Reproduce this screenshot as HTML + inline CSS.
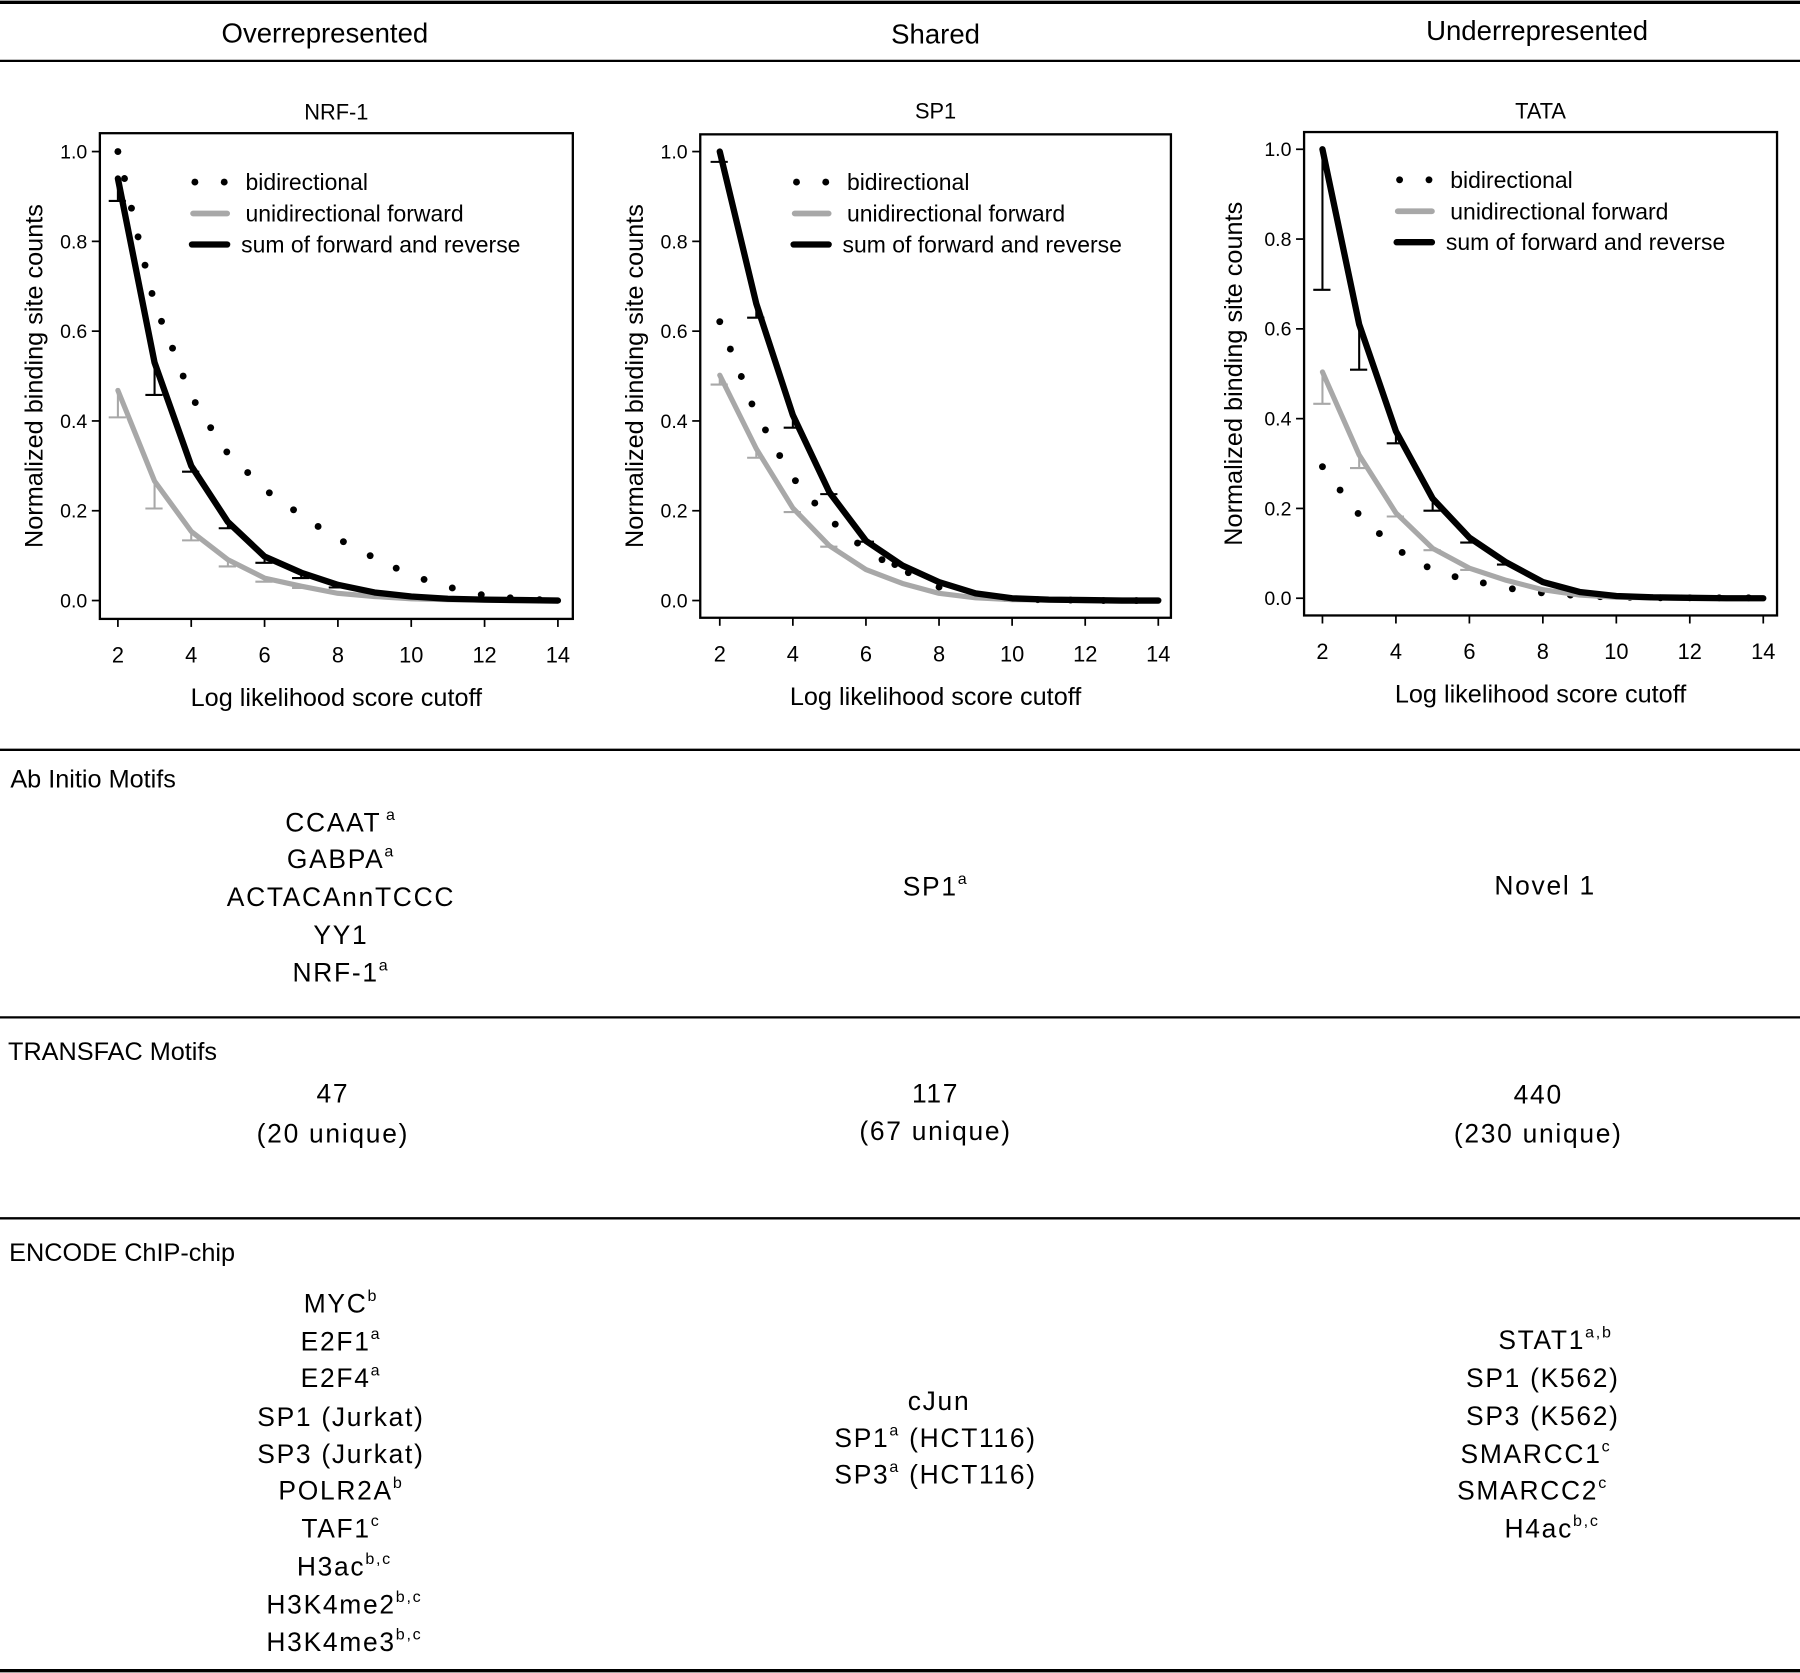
<!DOCTYPE html>
<html><head><meta charset="utf-8">
<style>
html,body{margin:0;padding:0;background:#fff;}
svg{display:block;}
text{font-family:"Liberation Sans",sans-serif;fill:#000;}
.hdr{font-size:24px;}
.row{font-size:22px;}
.it{font-size:23px;letter-spacing:1.5px;}
.sup{font-size:14px;}
</style></head>
<body>
<svg id="fig" width="1800" height="1673" viewBox="0 0 1568 1457" preserveAspectRatio="none" xmlns="http://www.w3.org/2000/svg">
<g stroke="#000">
<line x1="0" x2="1568" y1="2" y2="2" stroke-width="3"/>
<line x1="0" x2="1568" y1="53" y2="53" stroke-width="2"/>
<line x1="0" x2="1568" y1="653" y2="653" stroke-width="2"/>
<line x1="0" x2="1568" y1="886" y2="886" stroke-width="2"/>
<line x1="0" x2="1568" y1="1061" y2="1061" stroke-width="2"/>
<line x1="0" x2="1568" y1="1455" y2="1455" stroke-width="3"/>
</g>
<text class="hdr" x="283" y="37" text-anchor="middle">Overrepresented</text>
<text class="hdr" x="815" y="38" text-anchor="middle">Shared</text>
<text class="hdr" x="1339" y="35" text-anchor="middle">Underrepresented</text>

<text class="row" x="9" y="686">Ab Initio Motifs</text>
<g text-anchor="middle">
<text class="it" x="297" y="724">CCAAT<tspan class="sup" dx="4" dy="-10">a</tspan></text>
<text class="it" x="297" y="756">GABPA<tspan class="sup" dy="-10">a</tspan></text>
<text class="it" x="297" y="789">ACTACAnnTCCC</text>
<text class="it" x="297" y="822">YY1</text>
<text class="it" x="297" y="855">NRF-1<tspan class="sup" dy="-10">a</tspan></text>
</g>
<text class="it" x="815" y="780" text-anchor="middle">SP1<tspan class="sup" dy="-10">a</tspan></text>
<text class="it" x="1346" y="779" text-anchor="middle">Novel 1</text>

<text class="row" x="7" y="923">TRANSFAC Motifs</text>
<g text-anchor="middle">
<text class="it" x="290" y="960">47</text><text class="it" x="290" y="995">(20 unique)</text>
<text class="it" x="815" y="960">117</text><text class="it" x="815" y="993">(67 unique)</text>
<text class="it" x="1340" y="961">440</text><text class="it" x="1340" y="995">(230 unique)</text>
</g>

<text class="row" x="8" y="1098">ENCODE ChIP-chip</text>
<g text-anchor="middle">
<text class="it" x="297" y="1143">MYC<tspan class="sup" dy="-10">b</tspan></text>
<text class="it" x="297" y="1176">E2F1<tspan class="sup" dy="-10">a</tspan></text>
<text class="it" x="297" y="1208">E2F4<tspan class="sup" dy="-10">a</tspan></text>
<text class="it" x="297" y="1242">SP1 (Jurkat)</text>
<text class="it" x="297" y="1274">SP3 (Jurkat)</text>
<text class="it" x="297" y="1306">POLR2A<tspan class="sup" dy="-10">b</tspan></text>
<text class="it" x="297" y="1339">TAF1<tspan class="sup" dy="-10">c</tspan></text>
<text class="it" x="300" y="1372">H3ac<tspan class="sup" dy="-10">b,c</tspan></text>
<text class="it" x="300" y="1405">H3K4me2<tspan class="sup" dy="-10">b,c</tspan></text>
<text class="it" x="300" y="1438">H3K4me3<tspan class="sup" dy="-10">b,c</tspan></text>
</g>
<g text-anchor="middle">
<text class="it" x="818" y="1228">cJun</text>
<text class="it" x="815" y="1260">SP1<tspan class="sup" dy="-10">a</tspan><tspan dy="10"> (HCT116)</tspan></text>
<text class="it" x="815" y="1292">SP3<tspan class="sup" dy="-10">a</tspan><tspan dy="10"> (HCT116)</tspan></text>
</g>
<g text-anchor="middle">
<text class="it" x="1355" y="1175">STAT1<tspan class="sup" dy="-10">a,b</tspan></text>
<text class="it" x="1344" y="1208">SP1 (K562)</text>
<text class="it" x="1344" y="1241">SP3 (K562)</text>
<text class="it" x="1338" y="1274">SMARCC1<tspan class="sup" dy="-10">c</tspan></text>
<text class="it" x="1335" y="1306">SMARCC2<tspan class="sup" dy="-10">c</tspan></text>
<text class="it" x="1352" y="1339">H4ac<tspan class="sup" dy="-10">b,c</tspan></text>
</g>
<g id="plots"></g>
</svg>
<script>
const xs = [2,3,4,5,6,7,8,9,10,11,12,13,14];
const xTicks = [2,4,6,8,10,12,14];
const yTicks = [0,0.2,0.4,0.6,0.8,1.0];
const yTickLabels = ["0.0","0.2","0.4","0.6","0.8","1.0"];
const titles = ["NRF-1","SP1","TATA"];
const legendLabels = ["bidirectional","unidirectional forward","sum of forward and reverse"];
// NRF-1
const nrfSum = [0.94,0.53,0.30,0.175,0.098,0.062,0.035,0.018,0.009,0.004,0.002,0.001,0];
const nrfSumLow = [0.89,0.458,0.287,0.161,0.084,0.05,0.029];
const nrfFwd = [0.468,0.266,0.154,0.091,0.05,0.032,0.016,0.009,0.004,0.002,0.001,0,0];
const nrfFwdLow = [0.408,0.205,0.134,0.076,0.042,0.028];
const nrfBiX = [2,2.18,2.37,2.55,2.74,2.93,3.19,3.49,3.78,4.11,4.53,4.97,5.54,6.13,6.79,7.46,8.15,8.88,9.59,10.35,11.12,11.91,12.7,13.5];
const nrfBiY = [1.0,0.94,0.874,0.81,0.747,0.684,0.622,0.562,0.5,0.441,0.385,0.331,0.285,0.24,0.202,0.165,0.131,0.1,0.072,0.047,0.028,0.013,0.006,0.002];
// SP1
const spSum = [1.0,0.661,0.413,0.241,0.133,0.078,0.041,0.016,0.005,0.002,0.001,0,0];
const spSumLow = [0.977,0.63,0.385,0.237,0.131];
const spFwd = [0.502,0.338,0.206,0.122,0.069,0.038,0.016,0.006,0.002,0.001,0,0,0];
const spFwdLow = [0.481,0.318,0.197,0.12];
const spBiX = [2,2.29,2.59,2.88,3.25,3.64,4.07,4.6,5.16,5.77,6.44,6.79,7.16,8,8.9,9.8,10.7,11.6,12.5,13.4];
const spBiY = [0.621,0.56,0.499,0.438,0.38,0.323,0.267,0.217,0.17,0.128,0.091,0.08,0.062,0.03,0.013,0.005,0.002,0.001,0,0];
// TATA
const tataSum = [1.0,0.61,0.372,0.222,0.135,0.08,0.036,0.014,0.005,0.002,0.001,0,0];
const tataSumLow = [0.687,0.509,0.345,0.195,0.124,0.075];
const tataFwd = [0.504,0.319,0.19,0.111,0.067,0.04,0.019,0.007,0.002,0.001,0,0,0];
const tataFwdLow = [0.433,0.29,0.182,0.107,0.063];
const tataBiX = [2,2.48,2.97,3.55,4.17,4.85,5.61,6.38,7.17,7.96,8.75,9.56,10.37,11.2,12,12.8,13.6];
const tataBiY = [0.293,0.241,0.189,0.144,0.102,0.07,0.048,0.034,0.021,0.012,0.007,0.0035,0.002,0.001,0.001,0.001,0.001];

const NS="http://www.w3.org/2000/svg";
function mk(tag, attrs, parent){const e=document.createElementNS(NS,tag);for(const k in attrs)e.setAttribute(k,attrs[k]);parent.appendChild(e);return e;}
const root=document.getElementById('plots');
const geoms=[
 {left:87,right:499,top:116,bottom:539,x2:102.7,x14:486,y1:132,y0:523,ylab:30,title:97},
 {left:610,right:1020,top:117,bottom:538,x2:627,x14:1009,y1:132,y0:523,ylab:553,title:96},
 {left:1136,right:1548,top:115,bottom:536,x2:1152,x14:1536,y1:130,y0:521,ylab:1075,title:96}
];
const datasets=[
 {sum:nrfSum,sumLow:nrfSumLow,fwd:nrfFwd,fwdLow:nrfFwdLow,bx:nrfBiX,by:nrfBiY},
 {sum:spSum,sumLow:spSumLow,fwd:spFwd,fwdLow:spFwdLow,bx:spBiX,by:spBiY},
 {sum:tataSum,sumLow:tataSumLow,fwd:tataFwd,fwdLow:tataFwdLow,bx:tataBiX,by:tataBiY}
];
geoms.forEach((g,i)=>{
 const d=datasets[i];
 const X=v=>g.x2+(v-2)*(g.x14-g.x2)/12;
 const Y=v=>g.y0-v*(g.y0-g.y1);
 const grp=mk('g',{},root);
 
 
 const t=mk('text',{x:(g.left+g.right)/2,y:g.title+7,'text-anchor':'middle','font-size':'19'},grp);
 t.textContent=titles[i];
 
 
 const box=mk('rect',{x:g.left,y:g.top,width:g.right-g.left,height:g.bottom-g.top,fill:'none',stroke:'#000','stroke-width':2},grp);
 
 
 yTicks.forEach((v,k)=>{
  mk('line',{x1:g.left,x2:g.left-7,y1:Y(v),y2:Y(v),stroke:'#000','stroke-width':1.5},grp);
  const tl=mk('text',{x:g.left-11,y:Y(v)+6,'text-anchor':'end','font-size':'17'},grp);
  tl.textContent=yTickLabels[k];
  
  
 });
 xTicks.forEach(v=>{
  mk('line',{x1:X(v),x2:X(v),y1:g.bottom,y2:g.bottom+7,stroke:'#000','stroke-width':1.5},grp);
  const tl=mk('text',{x:X(v),y:g.bottom+38,'text-anchor':'middle','font-size':'19'},grp);
  tl.textContent=String(v);
  
  
 });
 const xt=mk('text',{x:(g.left+g.right)/2,y:g.bottom+76,'text-anchor':'middle','font-size':'22'},grp);
 xt.textContent='Log likelihood score cutoff';
 
 
 const yt=mk('text',{x:0,y:0,'text-anchor':'middle','font-size':'22',transform:`translate(${g.ylab+7},${(g.y0+g.y1)/2}) rotate(-90)`},grp);
 yt.textContent='Normalized binding site counts';
 
 
 const eb=(vals,low,col,name)=>{
  low.forEach((lv,k)=>{
   const e=mk('g',{stroke:col,'stroke-width':1.8},grp);
   
   
   mk('line',{x1:X(xs[k]),x2:X(xs[k]),y1:Y(vals[k]),y2:Y(lv)},e);
   mk('line',{x1:X(xs[k])-8,x2:X(xs[k])+7,y1:Y(lv),y2:Y(lv)},e);
  });
 };
 eb(d.fwd,d.fwdLow,'#a8a8a8','error-bar-forward');
 eb(d.sum,d.sumLow,'#000','error-bar-sum');
 d.bx.forEach((xv,k)=>{
  const c=mk('circle',{cx:X(xv),cy:Y(d.by[k]),r:3,fill:'#000'},grp);
  
  
 });
 const pl=(vals,col,w,name)=>{
  const p=mk('polyline',{points:vals.map((v,k)=>X(xs[k])+','+Y(v)).join(' '),fill:'none',stroke:col,'stroke-width':w,'stroke-linejoin':'round','stroke-linecap':'round'},grp);
  
  
 };
 pl(d.fwd,'#a8a8a8',4.5,'unidirectional-forward-line');
 pl(d.sum,'#000',5.5,'sum-forward-reverse-line');
 const lg=mk('g',{},grp);
 
 
 const ly=[0.932,0.862,0.793].map(Y);
 mk('circle',{cx:X(4.1),cy:ly[0],r:3,fill:'#000'},lg);
 mk('circle',{cx:X(4.9),cy:ly[0],r:3,fill:'#000'},lg);
 mk('line',{x1:X(4.05),x2:X(4.98),y1:ly[1],y2:ly[1],stroke:'#a8a8a8','stroke-width':5,'stroke-linecap':'round'},lg);
 mk('line',{x1:X(4.02),x2:X(4.98),y1:ly[2],y2:ly[2],stroke:'#000','stroke-width':5.5,'stroke-linecap':'round'},lg);
 const lx=[5.48,5.48,5.36];
 legendLabels.forEach((s,k)=>{
  const tt=mk('text',{x:X(lx[k]),y:ly[k]+7,'font-size':'20'},lg);
  tt.textContent=s;
  
  
 });
});
</script>
</body></html>
